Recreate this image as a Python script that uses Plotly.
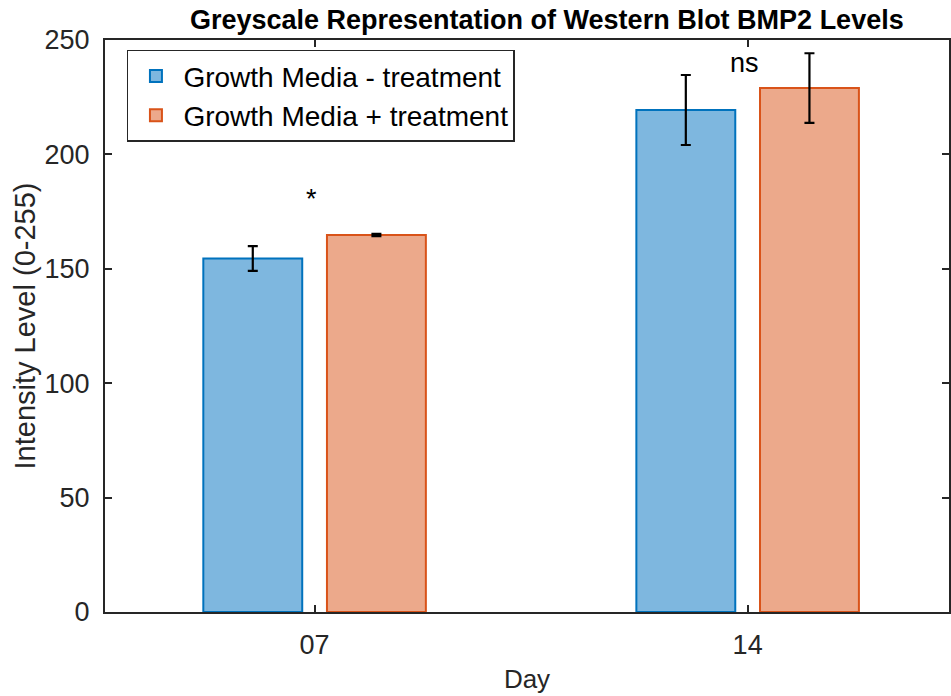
import plotly.graph_objects as go

days = ["07", "14"]
series_names = ["Growth Media - treatment", "Growth Media + treatment"]
minus_vals = [154.5, 219.4]
minus_err = [5.4, 15.3]
plus_vals = [164.8, 229.0]
plus_err = [0.5, 15.2]
sig_labels = ["*", "ns"]
sig_y = [180.5, 240]

FONT = "Liberation Sans, Arial, sans-serif"
AX = "#262626"

fig = go.Figure()
fig.add_trace(go.Bar(
    x=days, y=minus_vals, name=series_names[0],
    marker=dict(color="#7EB7DF", line=dict(color="#0072BD", width=2)),
    error_y=dict(type="data", array=minus_err, color="black", thickness=2.2, width=5),
))
fig.add_trace(go.Bar(
    x=days, y=plus_vals, name=series_names[1],
    marker=dict(color="#ECA98B", line=dict(color="#D95319", width=2)),
    error_y=dict(type="data", array=plus_err, color="black", thickness=2.2, width=5),
))

for i, (s, yy) in enumerate(zip(sig_labels, sig_y)):
    fig.add_annotation(x=i, y=yy, xref="x", yref="y", text=s, showarrow=False,
                       font=dict(family=FONT, size=27, color="black"), xshift=-3)

fig.update_layout(
    width=951, height=696,
    margin=dict(l=105, r=0, t=40, b=84),
    paper_bgcolor="white", plot_bgcolor="white",
    barmode="group", bargap=0.429, bargroupgap=0.2,
    font=dict(family=FONT, size=27, color=AX),
    title=dict(text="<b>Greyscale Representation of Western Blot BMP2 Levels</b>",
               x=0.575, xanchor="center", y=0.972, yanchor="middle",
               font=dict(family=FONT, size=27, color="black")),
    legend=dict(x=0.026, y=0.983, xanchor="left", yanchor="top",
                bgcolor="white", bordercolor=AX, borderwidth=1.5,
                font=dict(family=FONT, size=28, color="black"),
                itemwidth=45, tracegroupgap=0),
    showlegend=True,
)
fig.update_xaxes(
    type="category", range=[-0.484, 1.465],
    showline=True, linecolor=AX, linewidth=2, mirror="ticks",
    ticks="inside", ticklen=7, tickwidth=1.5, tickcolor=AX,
    tickfont=dict(family=FONT, size=27, color=AX), ticklabelstandoff=8,
    title=dict(text="Day", font=dict(family=FONT, size=26, color=AX), standoff=10),
    showgrid=False, zeroline=False,
)
fig.update_yaxes(
    range=[0, 250], tickvals=[0, 50, 100, 150, 200, 250],
    showline=True, linecolor=AX, linewidth=2, mirror="ticks",
    ticks="inside", ticklen=7, tickwidth=1.5, tickcolor=AX,
    tickfont=dict(family=FONT, size=27, color=AX), ticklabelstandoff=8,
    title=dict(text="Intensity Level (0-255)", font=dict(family=FONT, size=29, color=AX), standoff=0),
    showgrid=False, zeroline=False,
)

fig.write_html("out.html")
